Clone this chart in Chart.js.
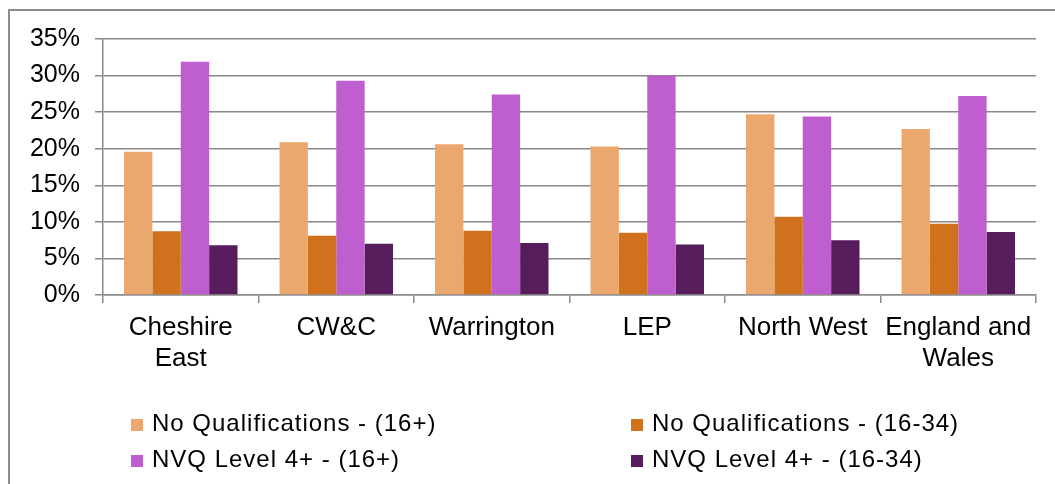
<!DOCTYPE html>
<html>
<head>
<meta charset="utf-8">
<script src="https://cdn.jsdelivr.net/npm/chart.js@4"></script>
<style>
  html, body { margin:0; padding:0; background:#fff; }
  #wrap { position:relative; width:1055px; height:484px; overflow:hidden; font-family:"Liberation Sans", Arial, sans-serif; }
  #frame { position:absolute; left:8px; top:9px; width:1100px; height:500px; border-left:2px solid #8c8c8c; border-top:2px solid #8c8c8c; box-sizing:border-box; }
  canvas { position:absolute; left:0; top:0; }
  .lg { position:absolute; font-size:24px; line-height:24px; letter-spacing:1px; color:#000; white-space:nowrap; }
  .mk { position:absolute; width:12px; height:12px; }
</style>
</head>
<body>
<div id="wrap">
  <div id="frame"></div>
  <canvas id="c" width="1055" height="484"></canvas>
  <div id="legend"></div>
</div>
<script>
const categories = [["Cheshire","East"], "CW&C", "Warrington", "LEP", "North West", ["England and","Wales"]];
const seriesNames = ["No Qualifications - (16+)", "No Qualifications - (16-34)", "NVQ Level 4+ - (16+)", "NVQ Level 4+ - (16-34)"];
const noQual16plus   = [19.6, 20.9, 20.6, 20.3, 24.7, 22.7];
const noQual16to34   = [8.7, 8.1, 8.8, 8.5, 10.7, 9.75];
const nvq4_16plus    = [31.9, 29.3, 27.4, 30.0, 24.4, 27.2];
const nvq4_16to34    = [6.8, 7.0, 7.1, 6.9, 7.5, 8.6];
const yTicks = [0, 5, 10, 15, 20, 25, 30, 35];
const colors = ["#EBA86E", "#D0711E", "#BF5ECF", "#561C5C"];

const values = [noQual16plus, noQual16to34, nvq4_16plus, nvq4_16to34];
const FONT = '"Liberation Sans", Arial, sans-serif';

new Chart(document.getElementById('c'), {
  type: 'bar',
  data: {
    labels: categories,
    datasets: values.map((v, i) => ({
      label: seriesNames[i],
      data: v,
      backgroundColor: colors[i],
      borderWidth: 0,
      categoryPercentage: 0.73,
      barPercentage: 1.0
    }))
  },
  options: {
    responsive: false,
    animation: false,
    layout: { padding: { top: 39, right: 19, left: 0, bottom: 0 } },
    plugins: { legend: { display: false }, tooltip: { enabled: false } },
    scales: {
      x: {
        offset: true,
        grid: { drawOnChartArea: false, drawTicks: true, tickLength: 8, color: '#8c8c8c', lineWidth: 1.5, offset: true },
        border: { color: '#8c8c8c', width: 1.5 },
        ticks: { color: '#000', font: { family: FONT, size: 26, lineHeight: 1.17 }, padding: 10, maxRotation: 0, autoSkip: false },
        afterFit: s => { s.height = 189; }
      },
      y: {
        min: 0, max: 35,
        afterBuildTicks: s => { s.ticks = yTicks.map(v => ({ value: v })); },
        grid: { color: '#888888', lineWidth: 1.5, tickLength: 8 },
        border: { color: '#888888', width: 1.5 },
        ticks: { color: '#000', font: { family: FONT, size: 25 }, padding: 15, callback: v => v + '%' },
        afterFit: s => { s.width = 103; }
      }
    }
  }
});

// legend (2 columns)
const lg = document.getElementById('legend');
const colX = [131, 631];
const rowBase = [431, 467];
seriesNames.forEach((name, i) => {
  const col = i % 2, row = Math.floor(i / 2);
  const mk = document.createElement('div');
  mk.className = 'mk';
  mk.style.left = colX[col] + 'px';
  mk.style.top = (rowBase[row] - 12) + 'px';
  mk.style.background = colors[i];
  lg.appendChild(mk);
  const t = document.createElement('div');
  t.className = 'lg';
  t.style.left = (colX[col] + 21) + 'px';
  t.style.top = (rowBase[row] - 20) + 'px';
  t.textContent = name;
  lg.appendChild(t);
});
</script>
</body>
</html>
